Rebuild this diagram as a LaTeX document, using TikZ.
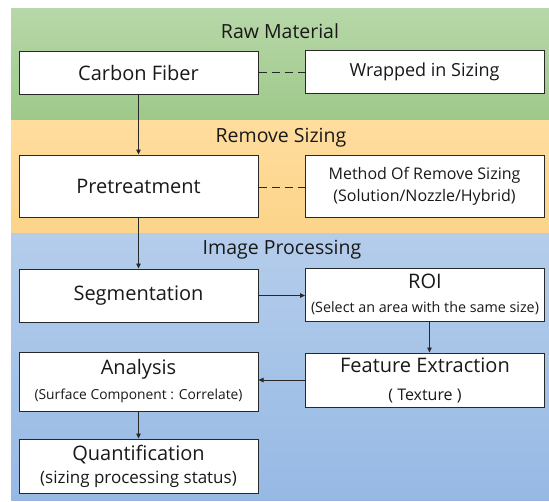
\documentclass[tikz,border=0pt]{standalone}
\usepackage{fontspec}
\setmainfont{Open Sans}
\usetikzlibrary{arrows.meta}
\definecolor{greenTop}{RGB}{183,215,168}
\definecolor{greenBot}{RGB}{158,201,138}
\definecolor{orangeTop}{RGB}{255,221,158}
\definecolor{orangeBot}{RGB}{252,212,138}
\definecolor{blueTop}{RGB}{181,205,235}
\definecolor{blueBot}{RGB}{150,185,228}
\definecolor{edge}{RGB}{40,40,40}
\begin{document}
\begin{tikzpicture}[x=1pt,y=-1pt,
  box/.style={draw=edge, line width=1pt, fill=white, minimum width=239pt, inner sep=0pt, align=center, text=black!90},
  big/.style={font=\fontsize{20}{25}\selectfont},
  arr/.style={draw=edge, line width=0.8pt, -{Triangle[length=5pt,width=4.5pt]}},
  dashline/.style={draw=edge, line width=1.2pt, dash pattern=on 8pt off 5pt},
  title/.style={font=\fontsize{19.5}{23}\selectfont, text=black!90}]
\useasboundingbox (0,0) rectangle (549,501);
% bands
\shade[top color=greenTop, bottom color=greenBot] (11,8.5) rectangle (549,120.5);
\shade[top color=orangeTop, bottom color=orangeBot] (11,120.5) rectangle (549,233);
\shade[top color=blueTop, bottom color=blueBot] (11,233) rectangle (549,500);
% titles
\node[title] (t1) at (280,31) {Raw Material};
\node[title] (t2) at (281,137.5) {Remove Sizing};
\node[title] (t3) at (282,250) {Image Processing};
% boxes
\node[box, big, minimum height=43pt] (cf) at (138.5,72.5) {Carbon Fiber};
\node[box, minimum height=43pt, font=\fontsize{18}{22}\selectfont] (wr) at (424.5,72) {Wrapped in Sizing};
\node[box, big, minimum height=62pt] (pre) at (138.5,186) {Pretreatment};
\node[box, minimum height=62pt, font=\fontsize{16}{22}\selectfont] (meth) at (424.5,186) {Method Of Remove Sizing\\(Solution/Nozzle/Hybrid)};
\node[box, big, minimum height=53pt] (seg) at (138.5,295.5) {Segmentation};
\node[box, minimum height=53pt, font=\fontsize{20}{23.5}\selectfont] (roi) at (425,294.5) {ROI\\{\fontsize{14.3}{16}\selectfont (Select an area with the same size)}};
\node[box, minimum height=59pt, font=\fontsize{20}{25}\selectfont] (ana) at (138.5,381.5) {Analysis\\{\fontsize{13.8}{17}\selectfont (Surface Component : Correlate)}};
\node[box, minimum height=54pt, font=\fontsize{20}{28}\selectfont] (fe) at (425,380) {Feature Extraction\\{\fontsize{16}{18}\selectfont ( Texture )}};
\node[box, minimum height=54pt, font=\fontsize{20}{23}\selectfont] (qu) at (138.5,466) {Quantification\\{\fontsize{17}{19}\selectfont (sizing processing status)}};
% connectors
\draw[dashline] (cf.east) -- (wr.west |- cf.east);
\draw[dashline] ([yshift=-1.5pt]pre.east) -- ([yshift=-1.5pt]pre.east -| meth.west);
\draw[arr] (cf.south) -- (pre.north);
\draw[arr] (pre.south) -- (seg.north);
\draw[arr] (seg.east) -- (seg.east -| roi.west);
\draw[arr] ([xshift=4.5pt]roi.south) -- ([xshift=4.5pt]roi.south |- fe.north);
\draw[arr] (fe.west) -- (fe.west -| ana.east);
\draw[arr] (ana.south) -- (qu.north);
\end{tikzpicture}
\end{document}
